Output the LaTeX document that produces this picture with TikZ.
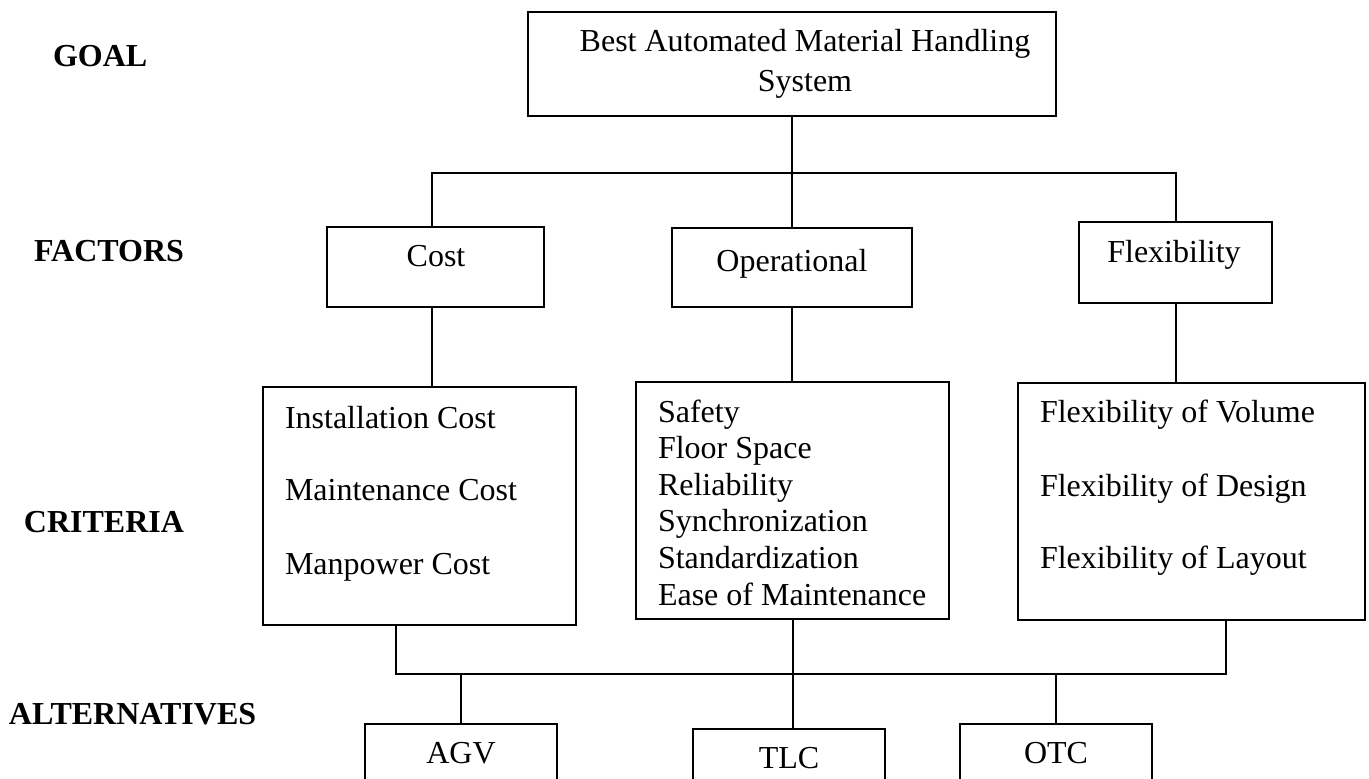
\documentclass[tikz,border=0pt]{standalone}
\usepackage{fontspec}
\setmainfont{Liberation Serif}
\begin{document}
\begin{tikzpicture}[x=0.5pt, y=-0.5pt, line width=1pt,
  box/.style={draw, rectangle, inner sep=0pt},
  txt/.style={inner sep=0pt, font=\fontsize{16}{19}\selectfont},
  item/.style={txt, anchor=base west},
  title/.style={txt, anchor=base},
  level/.style={inner sep=0pt, anchor=base west, font=\fontsize{16}{19}\selectfont\bfseries}]
\useasboundingbox (0,0) rectangle (1369,778);

% level labels
\node[level] (lgoal) at (52,66) {GOAL};
\node[level] (lfact) at (33,261.5) {FACTORS};
\node[level] (lcrit) at (23,532) {CRITERIA};
\node[level] (lalt)  at (8,724.6) {ALTERNATIVES};

% goal
\node[box, minimum width=264pt, minimum height=52pt] (goal) at (792,64) {};
\node[title] (goalt1) at (805,51) {Best Automated Material Handling};
\node[title] (goalt2) at (805,91) {System};

% factors
\node[box, minimum width=108.5pt, minimum height=40pt] (cost) at (435.5,267) {};
\node[title] (costt) at (436,266) {Cost};
\node[box, minimum width=120pt, minimum height=39.5pt] (oper) at (792,267.5) {};
\node[title] (opert) at (792,271) {Operational};
\node[box, minimum width=96.5pt, minimum height=40.5pt] (flex) at (1175.5,262.5) {};
\node[title] (flext) at (1174,262) {Flexibility};

% criteria
\node[box, minimum width=156.5pt, minimum height=119pt] (ccrit) at (419.5,506) {};
\node[item] (c1) at (284,428) {Installation Cost};
\node[item] (c2) at (284,500) {Maintenance Cost};
\node[item] (c3) at (284,574) {Manpower Cost};

\node[box, minimum width=156.5pt, minimum height=118.5pt] (ocrit) at (792.5,500.5) {};
\node[item] (o1) at (657,422) {Safety};
\node[item] (o2) at (657,458.5) {Floor Space};
\node[item] (o3) at (657,495) {Reliability};
\node[item] (o4) at (657,531.5) {Synchronization};
\node[item] (o5) at (657,568) {Standardization};
\node[item] (o6) at (657,605) {Ease of Maintenance};

\node[box, minimum width=173.5pt, minimum height=118.5pt] (fcrit) at (1191.5,501.5) {};
\node[item] (f1) at (1039,422) {Flexibility of Volume};
\node[item] (f2) at (1039,496) {Flexibility of Design};
\node[item] (f3) at (1039,568) {Flexibility of Layout};

% alternatives
\node[box, minimum width=96pt, minimum height=38pt] (agv) at (461,762) {};
\node[title] (agvt) at (461,763) {AGV};
\node[box, minimum width=96pt, minimum height=38pt] (tlc) at (789,767) {};
\node[title] (tlct) at (789,768) {TLC};
\node[box, minimum width=96pt, minimum height=38pt] (otc) at (1056,762) {};
\node[title] (otct) at (1056,763) {OTC};

% junctions
\coordinate (jtop) at (792,173);
\coordinate (jbl) at (396,674);
\coordinate (jbr) at (1226,674);

% goal to factors
\draw (goal.south) -- (oper.north);
\draw ([xshift=-1.75pt]cost.north) |- (jtop) -| (flex.north);

% factors to criteria
\draw ([xshift=-1.75pt]cost.south) -- ([xshift=-1.75pt]cost.south |- ccrit.north);
\draw (oper.south) -- (oper.south |- ocrit.north);
\draw (flex.south) -- (flex.south |- fcrit.north);

% criteria to alternatives
\draw (jbl |- ccrit.south) -- (jbl) -- (jbr) -- (jbr |- fcrit.south);
\draw (ocrit.south) -- (ocrit.south |- tlc.north);
\draw (agv.north |- jbl) -- (agv.north);
\draw (otc.north |- jbl) -- (otc.north);
\end{tikzpicture}
\end{document}
